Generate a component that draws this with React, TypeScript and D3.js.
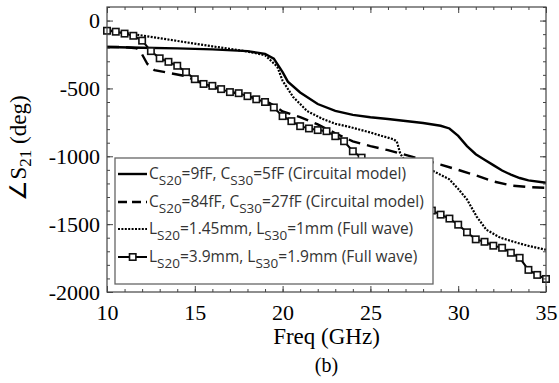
import React, { useEffect, useRef } from "react";
import * as d3 from "d3";

// frequency (GHz) / phase (deg) pairs
const circuitA = [
  [10, -195], [12, -200], [14, -205], [16, -212], [18, -225], [19, -245],
  [19.5, -280], [20, -380], [20.3, -450], [21, -530], [22, -615], [23, -665],
  [24, -695], [25, -712], [26, -725], [27, -740], [28, -755], [29, -775],
  [29.5, -795], [30, -850], [30.5, -925], [31, -985], [31.5, -1025], [32, -1065],
  [32.5, -1105], [33, -1135], [33.5, -1160], [34, -1178], [35, -1195]
];

const circuitB = [
  [10, -195], [11, -195], [11.7, -205], [12, -250], [12.3, -320], [12.7, -365],
  [13.5, -385], [14.5, -410], [15, -440], [16, -490], [17, -525], [18, -555],
  [19, -590], [19.5, -625], [20, -670], [21, -711], [22, -765], [23, -830],
  [24, -890], [25, -925], [26, -955], [27, -990], [28, -1025], [29, -1062],
  [30, -1100], [31, -1140], [32, -1185], [33, -1215], [34, -1227], [35, -1232]
];

const fullWaveA = [
  [10, -70], [12, -110], [14, -150], [16, -190], [18, -228], [19, -255],
  [19.7, -340], [20, -444], [20.6, -563], [21.4, -667], [22.3, -726], [23, -760],
  [23.85, -785], [25, -825], [25.7, -852], [26.3, -874], [26.5, -890], [26.7, -980],
  [27, -1040], [28, -1085], [28.6, -1110], [29.5, -1170], [30, -1240], [30.5, -1318],
  [31.05, -1444], [31.6, -1541], [32.4, -1600], [33.35, -1637], [34, -1660], [35, -1689]
];

const fullWaveBFreq = [
  10, 10.5, 11, 11.5, 12, 12.5, 13, 13.5, 14, 14.5, 15, 15.5, 16, 16.5, 17, 17.5,
  18, 18.5, 19, 19.5, 20, 20.5, 21, 21.5, 22, 22.5, 23, 23.5, 24, 24.5, 25, 25.5,
  26, 26.5, 27, 27.5, 28, 28.5, 29, 29.5, 30, 30.5, 31, 31.5, 32, 32.5, 33, 33.5,
  34, 34.5, 35
];
const fullWaveBPhase = [
  -75, -82, -96, -112, -148, -225, -278, -304, -333, -380, -432, -467, -481, -505,
  -527, -535, -557, -580, -600, -640, -704, -741, -778, -795, -807, -815, -852, -889,
  -963, -1010, -1050, -1090, -1130, -1170, -1215, -1260, -1320, -1400, -1430, -1459,
  -1504, -1560, -1612, -1630, -1659, -1674, -1711, -1748, -1837, -1874, -1904
];

const xTicks = [10, 15, 20, 25, 30, 35];
const yTicks = [0, -500, -1000, -1500, -2000];

// legend labels: [text, isSubscript]
const legendLabels = [
  [["C", 0], ["S20", 1], ["=9fF, C", 0], ["S30", 1], ["=5fF (Circuital model)", 0]],
  [["C", 0], ["S20", 1], ["=84fF, C", 0], ["S30", 1], ["=27fF (Circuital model)", 0]],
  [["L", 0], ["S20", 1], ["=1.45mm, L", 0], ["S30", 1], ["=1mm (Full wave)", 0]],
  [["L", 0], ["S20", 1], ["=3.9mm, L", 0], ["S30", 1], ["=1.9mm (Full wave)", 0]]
];

const W = 559, H = 383;
const left = 107, right = 546, top = 7, bottom = 292;
const serif = "'Liberation Serif', 'Times New Roman', serif";

const styles = [
  { width: 2.4, dash: "" },
  { width: 2.4, dash: "12,7" },
  { width: 2.2, dash: "2,1.4" },
  { width: 2, dash: "" }
];

export default function App() {
  const axRef = useRef(null);

  const x = d3.scaleLinear().domain([10, 35]).range([left, right]);
  const y = d3.scaleLinear().domain([-2000, 100]).range([bottom, top]);
  const line = d3.line().x(d => x(d[0])).y(d => y(d[1]));
  const sqData = fullWaveBFreq.map((f, i) => [f, fullWaveBPhase[i]]);
  const series = [circuitA, circuitB, fullWaveA, sqData];

  useEffect(() => {
    const g = d3.select(axRef.current);
    g.selectAll("*").remove();

    // minor ticks
    const minorX = d3.range(10, 35.01, 1);
    const minorY = d3.range(-2000, 100.01, 100);
    g.append("g").attr("transform", `translate(0,${bottom})`)
      .call(d3.axisBottom(x).tickValues(minorX).tickSize(-3).tickFormat(() => ""));
    g.append("g").attr("transform", `translate(0,${top})`)
      .call(d3.axisTop(x).tickValues(minorX).tickSize(-3).tickFormat(() => ""));
    g.append("g").attr("transform", `translate(${left},0)`)
      .call(d3.axisLeft(y).tickValues(minorY).tickSize(-3).tickFormat(() => ""));
    g.append("g").attr("transform", `translate(${right},0)`)
      .call(d3.axisRight(y).tickValues(minorY).tickSize(-3).tickFormat(() => ""));

    // major ticks
    const bx = g.append("g").attr("transform", `translate(0,${bottom})`)
      .call(d3.axisBottom(x).tickValues(xTicks).tickSizeInner(-6).tickSizeOuter(0).tickPadding(12));
    g.append("g").attr("transform", `translate(0,${top})`)
      .call(d3.axisTop(x).tickValues(xTicks).tickSizeInner(-6).tickSizeOuter(0).tickFormat(() => ""));
    const ly = g.append("g").attr("transform", `translate(${left},0)`)
      .call(d3.axisLeft(y).tickValues(yTicks).tickSizeInner(-6).tickSizeOuter(0).tickPadding(7)
        .tickFormat(d => String(d)));
    g.append("g").attr("transform", `translate(${right},0)`)
      .call(d3.axisRight(y).tickValues(yTicks).tickSizeInner(-6).tickSizeOuter(0).tickFormat(() => ""));

    g.selectAll("path.domain").remove();
    g.selectAll("g").attr("font-family", null).attr("font-size", null);
    g.selectAll("line").attr("stroke", "#444");
    [bx, ly].forEach(a => a.selectAll("text")
      .style("font-family", serif).style("font-size", "22px").attr("fill", "#000"));
  }, []);

  const lx = 115, lyTop = 158, lw = 318, lh = 126;
  const rowY = [174, 202, 229, 257];

  return (
    <svg width={W} height={H} style={{ position: "absolute", left: 0, top: 0, background: "#fff" }}>
      <rect x={0} y={0} width={W} height={H} fill="#fff" />
      <g>
        {series.map((s, i) => (
          <path key={i} d={line(s)} fill="none" stroke="#000"
            strokeWidth={styles[i].width} strokeDasharray={styles[i].dash} />
        ))}
        {sqData.map((d, i) => (
          <rect key={i} x={x(d[0]) - 3.2} y={y(d[1]) - 3.2} width={6.4} height={6.4}
            fill="#fff" stroke="#111" strokeWidth={1.6} />
        ))}
      </g>
      <rect x={left} y={top} width={right - left} height={bottom - top}
        fill="none" stroke="#444" strokeWidth={1.2} />
      <g ref={axRef} />

      <g>
        <rect x={lx} y={lyTop} width={lw} height={lh} fill="#fff" stroke="#666" strokeWidth={1.3} />
        {legendLabels.map((parts, i) => (
          <g key={i}>
            <line x1={118} x2={147} y1={rowY[i]} y2={rowY[i]} stroke="#000"
              strokeWidth={styles[i].width} strokeDasharray={i === 1 ? "9,5" : styles[i].dash} />
            {i === 3 && (
              <rect x={129.5} y={rowY[i] - 3.2} width={6.4} height={6.4}
                fill="#fff" stroke="#111" strokeWidth={1.6} />
            )}
            <text x={149} y={rowY[i] + 5} fontFamily="'Open Sans', sans-serif" fontSize={15.5} fill="#333">
              {parts.map((p, j) => (
                <tspan key={j} fontSize={p[1] ? 13.5 : 15.5}
                  dy={p[1] ? 6 : (j > 0 ? -6 : 0)}>{p[0]}</tspan>
              ))}
            </text>
          </g>
        ))}
      </g>

      <text x={(left + right) / 2} y={344} textAnchor="middle"
        fontFamily={serif} fontSize={23}>Freq (GHz)</text>
      <text x={(left + right) / 2} y={372} textAnchor="middle"
        fontFamily={serif} fontSize={20}>(b)</text>
      <text transform="translate(26,148) rotate(-90)" textAnchor="middle"
        fontFamily={serif} fontSize={23}>
        ∠S<tspan fontSize={17} dy={5}>21</tspan><tspan dy={-5}> (deg)</tspan>
      </text>
    </svg>
  );
}
